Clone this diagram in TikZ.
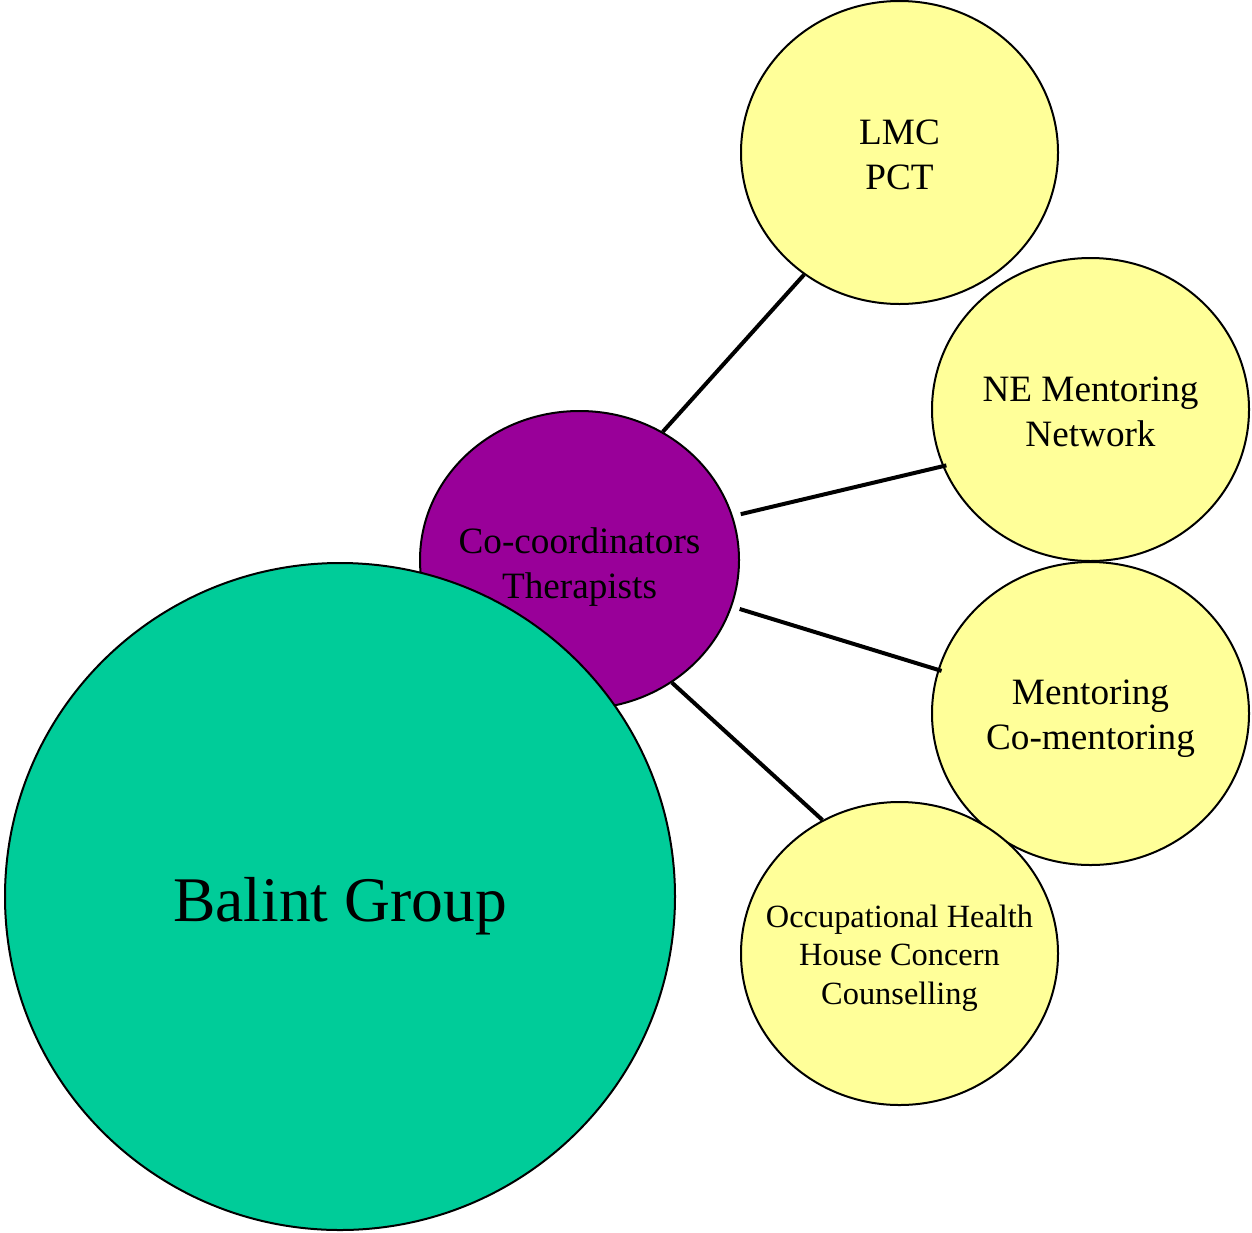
\documentclass[tikz,border=0pt]{standalone}
\usepackage{fontspec}
\setmainfont{Liberation Serif}
\usetikzlibrary{shapes.geometric}

\definecolor{hubpurple}{RGB}{153,0,153}
\definecolor{balintgreen}{RGB}{0,204,153}
\definecolor{paleyellow}{RGB}{255,255,153}

\begin{document}
\begin{tikzpicture}[x=0.5pt,y=-0.5pt,
  bubble/.style={ellipse,draw=black,line width=1pt,inner sep=0pt},
  outer/.style={bubble,fill=paleyellow,minimum width=158.5pt,minimum height=151.5pt},
  link/.style={line width=2pt},
  label/.style={align=center,font=\fontsize{18.6}{22.4}\selectfont}]
\useasboundingbox (0,0) rectangle (1252,1232);

% the hub, under the big circle
\node[bubble,fill=hubpurple,minimum width=159.5pt,minimum height=149pt] (hub) at (579.5,560) {};
% the big circle
\node[bubble,fill=balintgreen,minimum width=335pt,minimum height=333.5pt] (balint) at (340,896.5) {};

% the outer circles
\node[outer] (lmc) at (899.5,152.5) {};
\node[outer] (nemn) at (1090.5,409.5) {};
\node[outer] (ment) at (1090.5,713.5) {};
\node[outer] (occ) at (899.5,953.5) {};

% links from the hub
\draw[link] (hub.57) -- (lmc.232);
\draw[link,shorten <=4pt,shorten >=-2pt] (hub.16) -- (nemn.201);
\draw[link,shorten <=4pt,shorten >=-2pt] (hub.343) -- (ment.164);
\draw[link] (hub.307) -- (occ.120);

% labels
\node[font=\fontsize{31.8}{38}\selectfont] (balinttext) at (340,906) {Balint Group};
\node[label] (hubtext) at (579.5,567) {Co-coordinators\\Therapists};
\node[label] (lmctext) at (899.5,155) {LMC\\PCT};
\node[label] (nemntext) at (1090.5,412) {NE Mentoring\\Network};
\node[label] (menttext) at (1090.5,719) {Mentoring\\Co-mentoring};
\node[label,font=\fontsize{16.2}{19.3}\selectfont] (occtext) at (899.5,958) {Occupational Health\\House Concern\\Counselling};
\end{tikzpicture}
\end{document}
